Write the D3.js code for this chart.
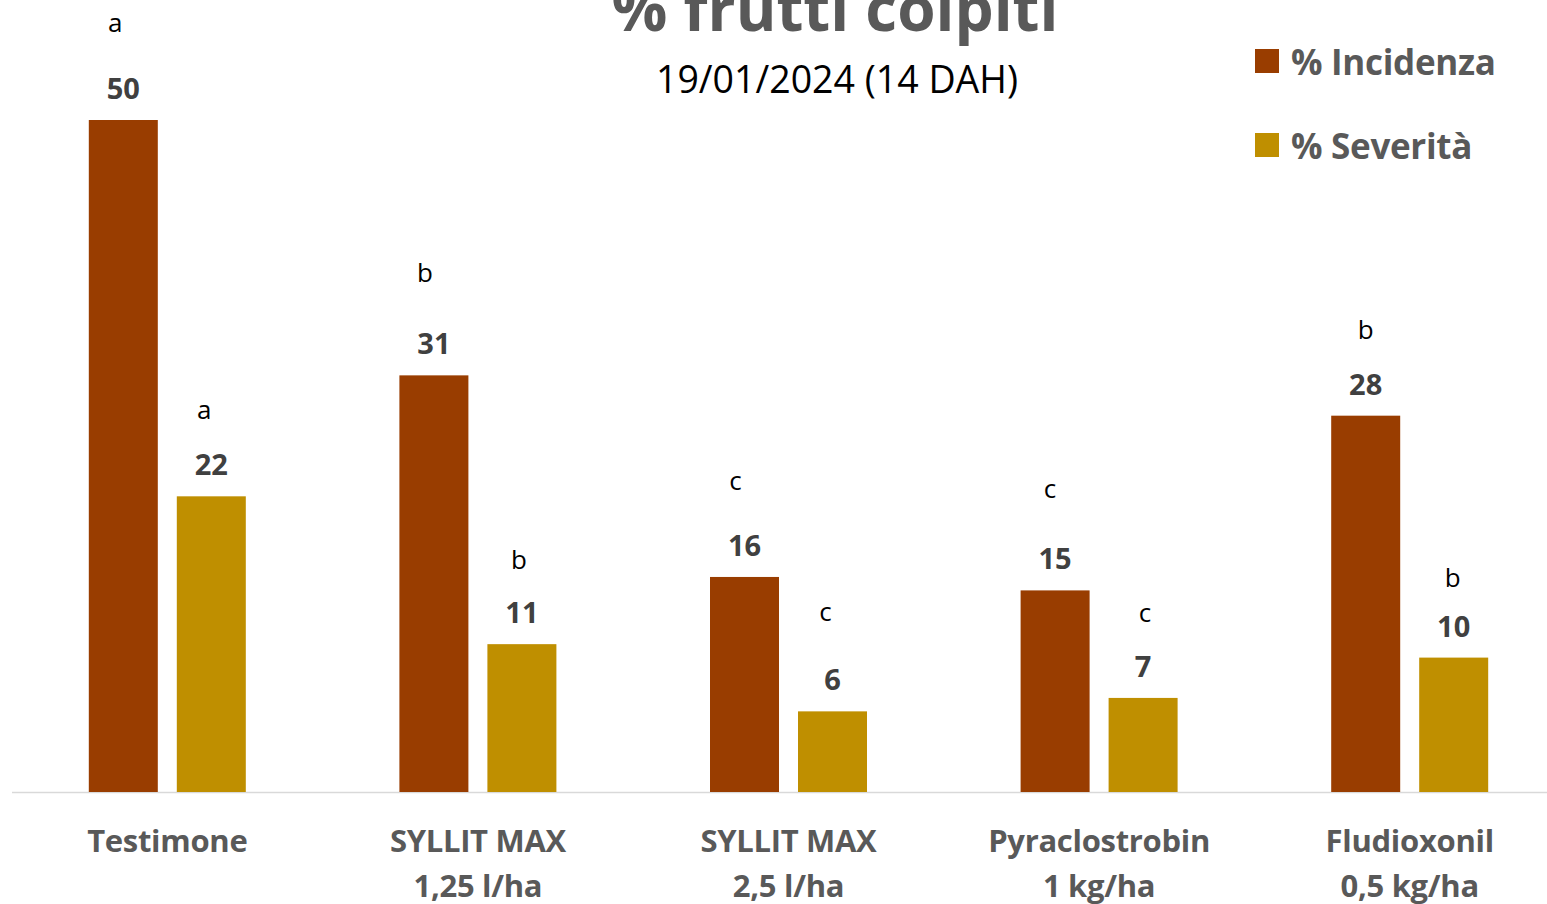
<!DOCTYPE html>
<html>
<head>
<meta charset="utf-8">
<script src="https://cdn.jsdelivr.net/npm/d3@7"></script>
<style>
  body { margin: 0; background: #fff; }
  svg { display: block; }
  text { font-family: "Open Sans", "Noto Sans", sans-serif; }
</style>
</head>
<body>
<svg width="1547" height="904"></svg>
<script>
// dati
const categories = ["Testimone", "SYLLIT MAX\n1,25 l/ha", "SYLLIT MAX\n2,5 l/ha", "Pyraclostrobin\n1 kg/ha", "Fludioxonil\n0,5 kg/ha"];
const series = ["% Incidenza", "% Severità"];
const incidenza = [50, 31, 16, 15, 28];
const severita = [22, 11, 6, 7, 10];
const lettereInc = ["a", "b", "c", "c", "b"];
const lettereSev = ["a", "b", "c", "c", "b"];
// posizione delle lettere (px) rispetto alla cima della barra, come nell'originale
const liftInc = [88, 93, 87, 92, 77];
const liftSev = [77, 75, 90, 76, 71];
const dxInc = [-8, -9, -9, -5, 0];
const dxSev = [-7, -3, -7, 2, -1];

const colors = ["#993D00", "#BF8F00"];

const svg = d3.select("svg");
const width = 1547;
const baseY = 792;

const x = d3.scaleBand()
    .domain(categories)
    .range([12, 1565])
    .paddingInner(0)
    .paddingOuter(0);

const barW = 69;
const gap = 19;

const y = d3.scaleLinear()
    .domain([0, 50])
    .range([baseY, 120]);

const data = categories.map((c, i) => ({
    cat: c,
    vals: [
        { s: 0, v: incidenza[i], l: lettereInc[i], lift: liftInc[i], dx: dxInc[i] },
        { s: 1, v: severita[i], l: lettereSev[i], lift: liftSev[i], dx: dxSev[i] }
    ]
}));

function barX(d, s) {
    const cx = x(d.cat) + x.bandwidth() / 2;
    const groupW = barW * 2 + gap;
    return cx - groupW / 2 + s * (barW + gap);
}

// asse
svg.append("line")
    .attr("x1", 12).attr("x2", width)
    .attr("y1", baseY + 0.5).attr("y2", baseY + 0.5)
    .attr("stroke", "#d9d9d9")
    .attr("stroke-width", 1.5);

const groups = svg.selectAll(".grp")
    .data(data)
    .enter().append("g")
    .attr("class", "grp");

groups.each(function(d) {
    const g = d3.select(this);
    g.selectAll("rect")
        .data(d.vals)
        .enter().append("rect")
        .attr("x", v => barX(d, v.s))
        .attr("y", v => y(v.v))
        .attr("width", barW)
        .attr("height", v => baseY - y(v.v))
        .attr("fill", v => colors[v.s]);

    g.selectAll(".val")
        .data(d.vals)
        .enter().append("text")
        .attr("class", "val")
        .attr("x", v => barX(d, v.s) + barW / 2)
        .attr("y", v => y(v.v) - 21)
        .attr("text-anchor", "middle")
        .attr("font-size", 29)
        .attr("font-weight", 700)
        .attr("fill", "#404040")
        .text(v => v.v);

    g.selectAll(".let")
        .data(d.vals)
        .enter().append("text")
        .attr("class", "let")
        .attr("x", v => barX(d, v.s) + barW / 2 + v.dx)
        .attr("y", v => y(v.v) - v.lift)
        .attr("text-anchor", "middle")
        .attr("font-size", 26)
        .attr("fill", "#000")
        .text(v => v.l);
});

// etichette categorie
const xAxis = svg.append("g");
categories.forEach(c => {
    const lines = c.split("\n");
    const t = xAxis.append("text")
        .attr("x", x(c) + x.bandwidth() / 2)
        .attr("y", 852)
        .attr("text-anchor", "middle")
        .attr("font-size", 31)
        .attr("font-weight", 700)
        .attr("fill", "#595959")
        .attr("letter-spacing", -0.3);
    lines.forEach((ln, k) => {
        t.append("tspan")
            .attr("x", x(c) + x.bandwidth() / 2)
            .attr("dy", k === 0 ? 0 : 45)
            .text(ln);
    });
});

// titolo
svg.append("text")
    .attr("x", 835).attr("y", 31)
    .attr("text-anchor", "middle")
    .attr("font-size", 62)
    .attr("font-weight", 700)
    .attr("fill", "#595959")
    .text("% frutti colpiti");

svg.append("text")
    .attr("x", 837).attr("y", 93)
    .attr("text-anchor", "middle")
    .attr("font-size", 37.5)
    .attr("fill", "#000")
    .text("19/01/2024 (14 DAH)");

// legenda
const legend = svg.selectAll(".leg")
    .data(series)
    .enter().append("g")
    .attr("class", "leg")
    .attr("transform", (d, i) => `translate(1255,${49 + i * 84})`);

legend.append("rect")
    .attr("width", 24).attr("height", 24)
    .attr("fill", (d, i) => colors[i]);

legend.append("text")
    .attr("x", 36).attr("y", 26)
    .attr("font-size", 35)
    .attr("font-weight", 700)
    .attr("fill", "#595959")
    .attr("letter-spacing", -0.3)
    .text(d => d);
</script>
</body>
</html>
